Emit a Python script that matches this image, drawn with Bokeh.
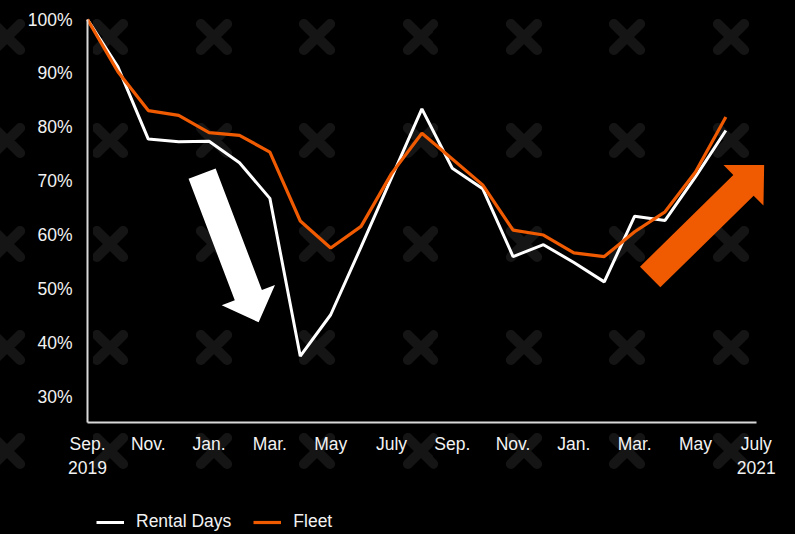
import math
from bokeh.plotting import figure
from bokeh.models import Range1d, FixedTicker, Legend, LegendItem, GlobalInlineStyleSheet
from bokeh.embed import file_html
from bokeh.resources import INLINE

# ---------------- data ----------------
months = list(range(22))  # Sep 2019 ... Jun 2021 (index 0 = Sep 2019)
rental_days = [100.0, 91.2, 77.8, 77.3, 77.4, 73.4, 66.8, 37.5, 45.2, 57.8, 70.6,
               83.4, 72.4, 68.6, 56.0, 58.2, 54.9, 51.3, 63.5, 62.7, 70.8, 79.4]
fleet = [100.0, 90.3, 83.1, 82.2, 79.0, 78.5, 75.4, 62.6, 57.6, 61.6, 71.4,
         78.9, 74.1, 69.3, 60.9, 60.0, 56.7, 56.0, 60.6, 64.3, 71.7, 81.9]
x_tick_positions = [0, 2, 4, 6, 8, 10, 12, 14, 16, 18, 20, 22]
x_tick_labels = ["Sep.\n2019", "Nov.", "Jan.", "Mar.", "May", "July",
                 "Sep.", "Nov.", "Jan.", "Mar.", "May", "July\n2021"]
y_tick_positions = [30, 40, 50, 60, 70, 80, 90, 100]
y_tick_labels = ["30%", "40%", "50%", "60%", "70%", "80%", "90%", "100%"]
series_names = ["Rental Days", "Fleet"]

# decorative arrows (tail -> tip, data units)
down_arrow = dict(tail=(3.77, 71.4), tip=(5.63, 43.8))
up_arrow = dict(tail=(18.51, 52.2), tip=(22.26, 73.0))

# ---------------- style ----------------
WHITE = "#FFFFFF"
ORANGE = "#F05A00"
AXIS = "#D9D9D9"
TEXT = "#F2F2F2"
FONT = "Liberation Sans"
FONT_SIZE = "17.5px"

AXIS_X = 0                 # month index where the y-axis line sits
AXIS_FLOOR = 25.2          # value where the x-axis line sits
PX_X = 30.398              # px per month
PX_Y = 5.3877              # px per percentage point
LEFT_PAD = 87              # px left of the y-axis
FRAME_W, FRAME_H = 795, 523
X0 = AXIS_X - LEFT_PAD / PX_X
X1 = X0 + FRAME_W / PX_X
Y1 = 101.485
Y0 = Y1 - FRAME_H / PX_Y

css = (
    "html{background-color:#000;"
    "background-image:url(\"data:image/svg+xml;utf8,"
    "<svg xmlns='http://www.w3.org/2000/svg' width='103.4' height='103.5'>"
    "<path d='M38.7 38.75 L64.7 64.75 M64.7 38.75 L38.7 64.75' stroke='%23151515' "
    "stroke-width='10' stroke-linecap='round' fill='none'/></svg>\");"
    "background-size:103.4px 103.5px;background-position:-44.7px -14.75px;"
    "background-repeat:repeat;}"
    "body{background:transparent;}"
)

p = figure(
    frame_width=FRAME_W, frame_height=FRAME_H,
    min_border_left=0, min_border_right=0, min_border_top=11, min_border_bottom=0,
    x_range=Range1d(X0, X1), y_range=Range1d(Y0, Y1),
    output_backend="svg", toolbar_location=None,
    background_fill_color=None, border_fill_color=None, outline_line_color=None,
)
p.stylesheets = [GlobalInlineStyleSheet(css=css)]
p.xgrid.visible = False
p.ygrid.visible = False

px_x = FRAME_W / (X1 - X0)
px_y = FRAME_H / (Y1 - Y0)


def arrow_patch(tail, tip, shaft_w=29, head_w=57, head_l=29):
    # work in pixel space, then convert back to data units
    tx, ty = tail[0] * px_x, tail[1] * px_y
    hx, hy = tip[0] * px_x, tip[1] * px_y
    dx, dy = hx - tx, hy - ty
    L = math.hypot(dx, dy)
    ux, uy = dx / L, dy / L
    vx, vy = -uy, ux
    bx, by = hx - ux * head_l, hy - uy * head_l
    pts = [
        (tx + vx * shaft_w / 2, ty + vy * shaft_w / 2),
        (bx + vx * shaft_w / 2, by + vy * shaft_w / 2),
        (bx + vx * head_w / 2, by + vy * head_w / 2),
        (hx, hy),
        (bx - vx * head_w / 2, by - vy * head_w / 2),
        (bx - vx * shaft_w / 2, by - vy * shaft_w / 2),
        (tx - vx * shaft_w / 2, ty - vy * shaft_w / 2),
    ]
    return [q[0] / px_x for q in pts], [q[1] / px_y for q in pts]


xs, ys = arrow_patch(down_arrow["tail"], down_arrow["tip"])
p.patch(xs, ys, fill_color=WHITE, line_color=None)
xs, ys = arrow_patch(up_arrow["tail"], up_arrow["tip"])
p.patch(xs, ys, fill_color=ORANGE, line_color=None)

r_white = p.line(months, rental_days, line_color=WHITE, line_width=3)
r_orange = p.line(months, fleet, line_color=ORANGE, line_width=3.2)

for ax in (p.xaxis[0], p.yaxis[0]):
    ax.axis_line_color = AXIS
    ax.axis_line_width = 2
    ax.major_tick_line_color = None
    ax.minor_tick_line_color = None
    ax.major_tick_out = 0
    ax.major_tick_in = 0
    ax.major_label_text_color = TEXT
    ax.major_label_text_font = FONT
    ax.major_label_text_font_size = FONT_SIZE

p.xaxis.ticker = FixedTicker(ticks=x_tick_positions)
p.xaxis.major_label_overrides = dict(zip(x_tick_positions, x_tick_labels))
p.xaxis.bounds = (0, 22)
p.xaxis.fixed_location = AXIS_FLOOR
p.xaxis.major_label_standoff = 11

p.yaxis.ticker = FixedTicker(ticks=y_tick_positions)
p.yaxis.major_label_overrides = dict(zip(y_tick_positions, y_tick_labels))
p.yaxis.bounds = (AXIS_FLOOR, 100)
p.yaxis.fixed_location = AXIS_X
p.yaxis.major_label_standoff = 15

legend = Legend(
    items=[LegendItem(label=series_names[0], renderers=[r_white]),
           LegendItem(label=series_names[1], renderers=[r_orange])],
    orientation="horizontal", location=(96, 2),
    background_fill_alpha=0, border_line_color=None,
    label_text_color=TEXT, label_text_font=FONT, label_text_font_size=FONT_SIZE,
    glyph_width=28, glyph_height=20, label_standoff=12, spacing=22,
    padding=0, margin=0,
)
p.add_layout(legend)

open("out.html", "w").write(file_html(p, INLINE))
